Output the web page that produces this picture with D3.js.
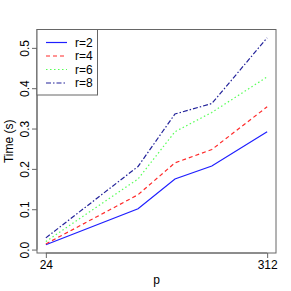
<!DOCTYPE html>
<html>
<head>
<meta charset="utf-8">
<script src="https://cdn.jsdelivr.net/npm/d3@7"></script>
<style>
  body { margin: 0; background: #fff; }
  text { font-family: "Liberation Sans", Arial, sans-serif; fill: #000; }
</style>
</head>
<body>
<div id="chart"></div>
<script>
var w = 291, h = 291;
var box = { left: 37, right: 276, top: 29.5, bottom: 253 };

// data
var pValues = [24, 144, 192, 240, 312];
var timeR2 = [0.012, 0.101, 0.175, 0.207, 0.292];
var timeR4 = [0.014, 0.136, 0.215, 0.248, 0.354];
var timeR6 = [0.020, 0.175, 0.292, 0.340, 0.428];
var timeR8 = [0.029, 0.206, 0.336, 0.362, 0.525];
var seriesNames = ["r=2", "r=4", "r=6", "r=8"];
var xTicks = [24, 312];
var yTicks = [0, 0.1, 0.2, 0.3, 0.4, 0.5];

var colors = ["#1f1fff", "#ff2a2a", "#55ff55", "#22229a"];
var dashes = [null, "4,3", "1.5,2.5", "5,2,1.5,2"];

var series = [timeR2, timeR4, timeR6, timeR8].map(function(vals, i) {
  return { name: seriesNames[i], values: vals.map(function(v, j) { return { p: pValues[j], t: v }; }) };
});

var svg = d3.select("#chart").append("svg")
  .attr("width", w).attr("height", h);

// R style 4% padding on both axes
function padded(ext) {
  var d = (ext[1] - ext[0]) * 0.04;
  return [ext[0] - d, ext[1] + d];
}
var allT = [].concat(timeR2, timeR4, timeR6, timeR8);
var x = d3.scaleLinear().domain(padded(d3.extent(pValues))).range([box.left, box.right]);
var y = d3.scaleLinear().domain(padded(d3.extent(allT))).range([box.bottom, box.top]);

// lines
var line = d3.line().x(function(d) { return x(d.p); }).y(function(d) { return y(d.t); });
svg.selectAll("path.series")
  .data(series)
  .enter().append("path")
  .attr("class", "series")
  .attr("d", function(d) { return line(d.values); })
  .attr("fill", "none")
  .attr("stroke", function(d, i) { return colors[i]; })
  .attr("stroke-width", 1.2)
  .attr("stroke-dasharray", function(d, i) { return dashes[i]; });

// box
svg.append("rect")
  .attr("x", box.left).attr("y", box.top)
  .attr("width", box.right - box.left).attr("height", box.bottom - box.top)
  .attr("fill", "none").attr("stroke", "#666").attr("stroke-width", 1);

// x axis
var xAxis = svg.append("g")
  .attr("transform", "translate(0," + box.bottom + ")")
  .call(d3.axisBottom(x).tickValues(xTicks).tickSize(5).tickPadding(2).tickFormat(d3.format("d")));
xAxis.select(".domain").attr("d", "M" + x(xTicks[0]) + ",0H" + x(xTicks[xTicks.length - 1])).attr("stroke", "#666");
xAxis.selectAll(".tick line").attr("stroke", "#666");
xAxis.selectAll("text").style("font-size", "12px").attr("fill", "#000");

// y axis
var yAxis = svg.append("g")
  .attr("transform", "translate(" + box.left + ",0)")
  .call(d3.axisLeft(y).tickValues(yTicks).tickSize(5).tickFormat(d3.format(".1f")));
yAxis.select(".domain").attr("d", "M0," + y(yTicks[0]) + "V" + y(yTicks[yTicks.length - 1])).attr("stroke", "#666");
yAxis.selectAll(".tick line").attr("stroke", "#666");
yAxis.selectAll("text")
  .attr("x", null).attr("dy", null)
  .attr("transform", "translate(-8,0) rotate(-90)")
  .attr("text-anchor", "middle")
  .style("font-size", "12px").attr("fill", "#000");

// axis titles
svg.append("text")
  .attr("x", (box.left + box.right) / 2).attr("y", 284)
  .attr("text-anchor", "middle").style("font-size", "12px")
  .text("p");
svg.append("text")
  .attr("transform", "translate(13," + (box.top + box.bottom) / 2 + ") rotate(-90)")
  .attr("text-anchor", "middle").style("font-size", "12px")
  .text("Time (s)");

// legend
var legend = svg.append("g");
legend.append("rect")
  .attr("x", box.left).attr("y", box.top)
  .attr("width", 60.5).attr("height", 65.5)
  .attr("fill", "#fff").attr("stroke", "#666");
var items = legend.selectAll("g.item")
  .data(series)
  .enter().append("g")
  .attr("class", "item")
  .attr("transform", function(d, i) { return "translate(0," + (box.top + 13 + i * 13.5) + ")"; });
items.append("line")
  .attr("x1", 46).attr("x2", 67)
  .attr("stroke", function(d, i) { return colors[i]; })
  .attr("stroke-width", 1.2)
  .attr("stroke-dasharray", function(d, i) { return dashes[i]; });
items.append("text")
  .attr("x", 75).attr("dy", "0.35em")
  .style("font-size", "12px")
  .text(function(d) { return d.name; });
</script>
</body>
</html>
